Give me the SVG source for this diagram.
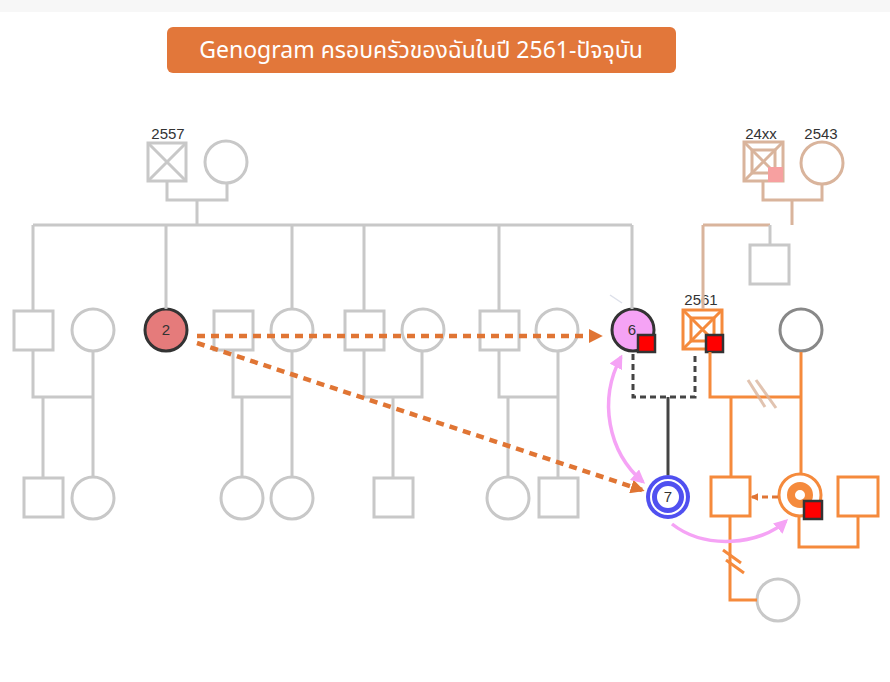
<svg xmlns="http://www.w3.org/2000/svg" width="890" height="682" viewBox="0 0 890 682">
<style>
.g{fill:#fff;stroke:#c8c8c8;stroke-width:3}
.gl{fill:none;stroke:#c8c8c8;stroke-width:3}
.ol{fill:none;stroke:#f58a3c;stroke-width:3}
.o{fill:#fff;stroke:#f58a3c;stroke-width:3}
.tl{fill:none;stroke:#d9b49c;stroke-width:3}
.t{fill:#fff;stroke:#d9b49c;stroke-width:3}
.num{font-family:"Liberation Sans",Arial,sans-serif;font-size:15px;fill:#333;text-anchor:middle}
.dash{fill:none;stroke:#e07534;stroke-width:4.5;stroke-dasharray:8 6}
.dk{fill:none;stroke:#444;stroke-width:3}
.pk{fill:none;stroke:#f5a3f5;stroke-width:3.5}
.red{fill:#f00;stroke:#333;stroke-width:2.5}
</style>
<defs>
<marker id="ao" viewBox="0 0 10 10" refX="8" refY="5" markerWidth="14" markerHeight="14" markerUnits="userSpaceOnUse" orient="auto"><path d="M0,0 L10,5 L0,10 z" fill="#e07534"/></marker>
<marker id="aos" viewBox="0 0 10 10" refX="8" refY="5" markerWidth="8" markerHeight="8" markerUnits="userSpaceOnUse" orient="auto"><path d="M0,0 L10,5 L0,10 z" fill="#e07534"/></marker>
<marker id="ap" viewBox="0 0 10 10" refX="8" refY="5" markerWidth="14" markerHeight="14" markerUnits="userSpaceOnUse" orient="auto-start-reverse"><path d="M0,0 L10,5 L0,10 z" fill="#f5a3f5"/></marker>
</defs>
<rect width="890" height="682" fill="#fff"/>
<rect width="890" height="12" fill="#f7f7f7"/>
<g id="title">
<rect x="167" y="27" width="509" height="46" rx="6" fill="#e2773a"/>
<text x="421" y="58" font-family="'Noto Sans Thai','Noto Sans','DejaVu Sans',sans-serif" font-size="23" fill="#fff" text-anchor="middle">Genogram ครอบครัวของฉันในปี 2561-ปัจจุบัน</text>
</g>
<g id="gp-left-male">
<rect class="g" x="148" y="143" width="38" height="38"/>
<path class="gl" d="M148,143 L186,181 M186,143 L148,181"/>
<text class="num" x="168" y="139">2557</text>
</g>
<g id="gp-left-female"><circle class="g" cx="226" cy="162" r="21"/></g>
<g id="gp-right-male">
<rect class="t" x="744" y="142" width="39" height="39"/>
<rect class="tl" x="752" y="150" width="23" height="23"/>
<path class="tl" d="M744,142 L783,181 M783,142 L744,181"/>
<rect x="768" y="167" width="15" height="15" fill="#f7a0a0"/>
<text class="num" x="761" y="139">24xx</text>
</g>
<g id="gp-right-female">
<circle class="t" cx="822" cy="163" r="21"/>
<text class="num" x="821" y="139">2543</text>
</g>
<g id="uncle-right"><rect class="g" x="750" y="245" width="39" height="39"/></g>
<g id="n1"><rect class="g" x="14" y="311" width="39" height="39"/></g>
<g id="n1w"><circle class="g" cx="93" cy="330" r="21"/></g>
<g id="n2">
<circle cx="166" cy="330" r="21" fill="#e57b7b" stroke="#333" stroke-width="3"/>
<text class="num" x="166" y="335">2</text>
</g>
<g id="n3h"><rect class="g" x="214" y="311" width="39" height="39"/></g>
<g id="n3"><circle class="g" cx="292" cy="330" r="21"/></g>
<g id="n4"><rect class="g" x="345" y="311" width="39" height="39"/></g>
<g id="n4w"><circle class="g" cx="423" cy="330" r="21"/></g>
<g id="n5"><rect class="g" x="480" y="311" width="39" height="39"/></g>
<g id="n5w"><circle class="g" cx="557" cy="330" r="21"/></g>
<g id="n6">
<circle cx="633" cy="330" r="21" fill="#f5a3f5" stroke="#333" stroke-width="3"/>
<text class="num" x="632" y="335" font-size="15">6</text>
<rect class="red" x="638" y="335" width="17" height="17"/>
</g>
<g id="n2561">
<rect class="o" x="683" y="310" width="39" height="39"/>
<rect class="ol" x="691" y="318" width="23" height="23" stroke-width="2"/>
<path class="ol" stroke-width="2" d="M683,310 L722,349 M722,310 L683,349"/>
<rect class="red" x="706" y="335" width="17" height="17"/>
<text class="num" x="701" y="305">2561</text>
</g>
<g id="nrw"><circle cx="801" cy="330" r="21" fill="#fff" stroke="#888" stroke-width="3"/></g>
<g id="c1"><rect class="g" x="24" y="478" width="39" height="39"/></g>
<g id="c2"><circle class="g" cx="93" cy="498" r="21"/></g>
<g id="c3"><circle class="g" cx="242" cy="498" r="21"/></g>
<g id="c4"><circle class="g" cx="292" cy="498" r="21"/></g>
<g id="c5"><rect class="g" x="374" y="478" width="39" height="39"/></g>
<g id="c6"><circle class="g" cx="508" cy="498" r="21"/></g>
<g id="c7"><rect class="g" x="539" y="478" width="39" height="39"/></g>
<g id="n7">
<circle cx="668" cy="497" r="22" fill="#5050f0"/>
<circle cx="668" cy="497" r="17" fill="none" stroke="#fff" stroke-width="2"/>
<circle cx="668" cy="497" r="11" fill="#fff"/>
<text class="num" x="668" y="502">7</text>
</g>
<g id="nbro"><rect class="o" x="711" y="477" width="39" height="39"/></g>
<g id="nme">
<circle class="o" cx="800" cy="495" r="21"/>
<circle cx="800" cy="495" r="9" fill="#fff" stroke="#f58a3c" stroke-width="8"/>
<rect class="red" x="804" y="501" width="18" height="18"/>
</g>
<g id="nsp"><rect class="o" x="838" y="477" width="40" height="39"/></g>
<g id="nbroc"><circle class="g" cx="778" cy="600" r="21"/></g>
<g id="connectors">
<path class="gl" d="M167,182 V200 H227 V184 M197,200 V225"/>
<path class="gl" d="M33,225 H632 M33,225 V311 M166,225 V309 M292,225 V309 M364,225 V311 M499,225 V311 M632,225 V309"/>
<path class="gl" d="M33,350 V397 H93 V352 M43,397 V478 M93,397 V477"/>
<path class="gl" d="M233,350 V397 H292 V352 M242,397 V477 M292,397 V477"/>
<path class="gl" d="M364,350 V397 H422 V352 M393,397 V478"/>
<path class="gl" d="M499,350 V397 H558 V352 M508,397 V477 M558,397 V478"/>
<path class="tl" d="M763,182 V200 H822 V185 M792,200 V225 M703,225 H770 M703,225 V309"/>
<path class="gl" d="M770,225 V244"/>
<path class="dk" stroke-dasharray="6 4" d="M633,354 V397 H695 V353"/>
<path class="dk" d="M668,397 V475"/>
<path class="ol" d="M710,352 V397 H800 M801,352 V473 M731,397 V476"/>
<path fill="none" stroke="#d9b49c" stroke-width="3" opacity="0.8" d="M748,380 L765,407 M756,380 L776,408"/>
<path class="ol" d="M730,517 V600 H757"/>
<path class="ol" d="M723,550 L741,563 M726,560 L744,573"/>
<path class="ol" d="M799,517 V547 H858 V517"/>
<line x1="778" y1="497" x2="752" y2="497" stroke="#e07534" stroke-width="3" stroke-dasharray="6 4" marker-end="url(#aos)"/>
<line class="dash" x1="197" y1="336" x2="600" y2="336" marker-end="url(#ao)"/>
<line class="dash" x1="197" y1="343" x2="642" y2="490" marker-end="url(#ao)"/>
<path class="pk" d="M621,357 C598,400 608,452 643,482" marker-start="url(#ap)" marker-end="url(#ap)"/>
<path class="pk" d="M672,524 C705,550 760,545 786,521" marker-end="url(#ap)"/>
<line x1="610" y1="295" x2="622" y2="303" stroke="#dde0ea" stroke-width="1.5"/>
</g>
</svg>
